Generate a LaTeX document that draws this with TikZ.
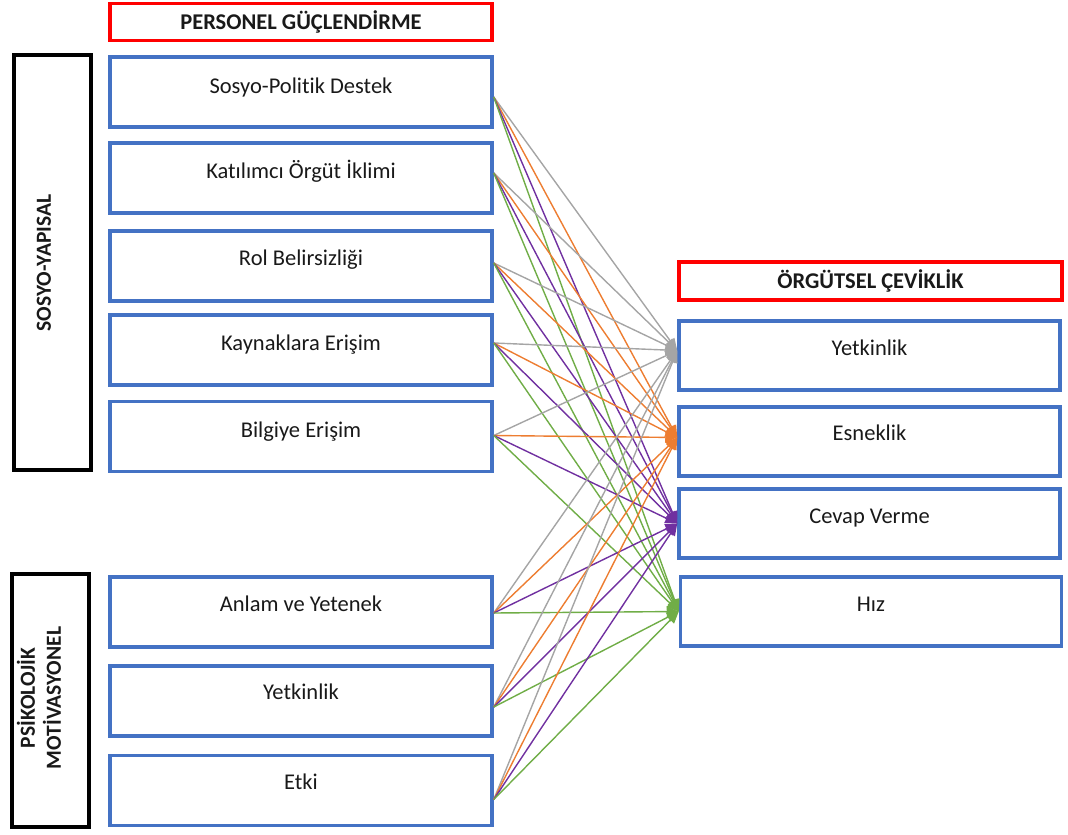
\documentclass[tikz,border=0pt]{standalone}
\usepackage{fontspec}
\setmainfont{Carlito}[Ligatures={NoCommon}]
\usetikzlibrary{arrows.meta,calc}
\definecolor{boxblue}{HTML}{4472C4}
\definecolor{hdrred}{HTML}{FF0000}
\definecolor{cgray}{HTML}{A5A5A5}
\definecolor{corange}{HTML}{ED7D31}
\definecolor{cpurple}{HTML}{7030A0}
\definecolor{cgreen}{HTML}{70AD47}
\begin{document}
\begin{tikzpicture}[x=1pt,y=-1pt,
  blbox/.style={draw=boxblue,line width=3.5pt,minimum width=382pt,minimum height=70pt,inner sep=0pt},
  redbox/.style={draw=hdrred,line width=3.5pt,minimum width=382pt,minimum height=37pt,inner sep=0pt},
  blackbox/.style={draw=black,line width=4pt,minimum width=77pt,inner sep=0pt},
  lbl/.style={font=\fontsize{22.5pt}{27pt}\selectfont,anchor=base,inner sep=0pt,text=black!90},
  hdr/.style={font=\fontsize{22.5pt}{27pt}\selectfont\bfseries,anchor=base,inner sep=0pt,text=black!90},
  vlbl/.style={font=\fontsize{21.5pt}{26pt}\selectfont\bfseries,rotate=90,align=center,inner sep=0pt,text=black!90},
  conn/.style={line width=1.4pt,-{Triangle[length=12pt,width=10pt]}}
]
\useasboundingbox (0,0) rectangle (1068,835);
% headers
\node[redbox] (h1) at (301,22) {};
\node[hdr] (h1t) at (301,29) {PERSONEL GÜÇLENDİRME};
\node[redbox,minimum width=383pt,minimum height=38pt] (h2) at (870.5,281) {};
\node[hdr] (h2t) at (870.5,288) {ÖRGÜTSEL ÇEVİKLİK};
% group boxes
\node[blackbox,minimum height=415pt] (g1) at (52.5,262.5) {};
\node[vlbl] (g1t) at (44,263) {SOSYO-YAPISAL};
\node[blackbox,minimum height=253pt] (g2) at (50.5,700.5) {};
\node[vlbl] (g2t) at (39,698) {PSİKOLOJİK\\MOTİVASYONEL};
% left boxes
\node[blbox] (s1) at (301,92) {};
\node[lbl] (s1t) at (301,93) {Sosyo-Politik Destek};
\node[blbox] (s2) at (301,178) {};
\node[lbl] (s2t) at (301,178) {Katılımcı Örgüt İklimi};
\node[blbox] (s3) at (301,266) {};
\node[lbl] (s3t) at (301,265) {Rol Belirsizliği};
\node[blbox] (s4) at (301,350) {};
\node[lbl] (s4t) at (301,350) {Kaynaklara Erişim};
\node[blbox] (s5) at (301,436.5) {};
\node[lbl] (s5t) at (301,437) {Bilgiye Erişim};
\node[blbox] (s6) at (301,612) {};
\node[lbl] (s6t) at (301,611) {Anlam ve Yetenek};
\node[blbox] (s7) at (301,701) {};
\node[lbl] (s7t) at (301,699) {Yetkinlik};
\node[blbox] (s8) at (301,790.5) {};
\node[lbl] (s8t) at (301,789) {Etki};
% right boxes
\node[blbox,minimum width=381pt,minimum height=69pt] (t1) at (869.5,355.5) {};
\node[lbl] (t1t) at (869.5,355) {Yetkinlik};
\node[blbox,minimum width=381pt,minimum height=69pt] (t2) at (869.5,441.5) {};
\node[lbl] (t2t) at (869.5,440) {Esneklik};
\node[blbox,minimum width=381pt,minimum height=69pt] (t3) at (869.5,523.5) {};
\node[lbl] (t3t) at (869.5,523) {Cevap Verme};
\node[blbox,minimum width=381pt,minimum height=69pt] (t4) at (871,611.5) {};
\node[lbl] (t4t) at (871,611) {Hız};
% connector anchors
\coordinate (o1) at ($(s1.east)+(0,5)$);
\coordinate (o2) at ($(s2.east)+(0,-5)$);
\coordinate (o3) at ($(s3.east)+(0,-3)$);
\coordinate (o4) at ($(s4.east)+(0,-7)$);
\coordinate (o5) at ($(s5.east)+(0,-1)$);
\coordinate (o6) at ($(s6.east)+(0,1)$);
\coordinate (o7) at ($(s7.east)+(0,6)$);
\coordinate (o8) at ($(s8.east)+(0,9)$);
\coordinate (e1) at ($(t1.west)+(0,-5)$);
\coordinate (e2) at ($(t2.west)+(0,-4)$);
\coordinate (e3) at ($(t3.west)+(0,0)$);
\coordinate (e4) at ($(t4.west)+(0,0)$);
% connectors
\foreach \i in {1,...,8}{
  \draw[conn,cgray] (o\i) -- (e1);
  \draw[conn,corange] (o\i) -- (e2);
  \draw[conn,cpurple] (o\i) -- (e3);
  \draw[conn,cgreen] (o\i) -- (e4);
}
\end{tikzpicture}
\end{document}
